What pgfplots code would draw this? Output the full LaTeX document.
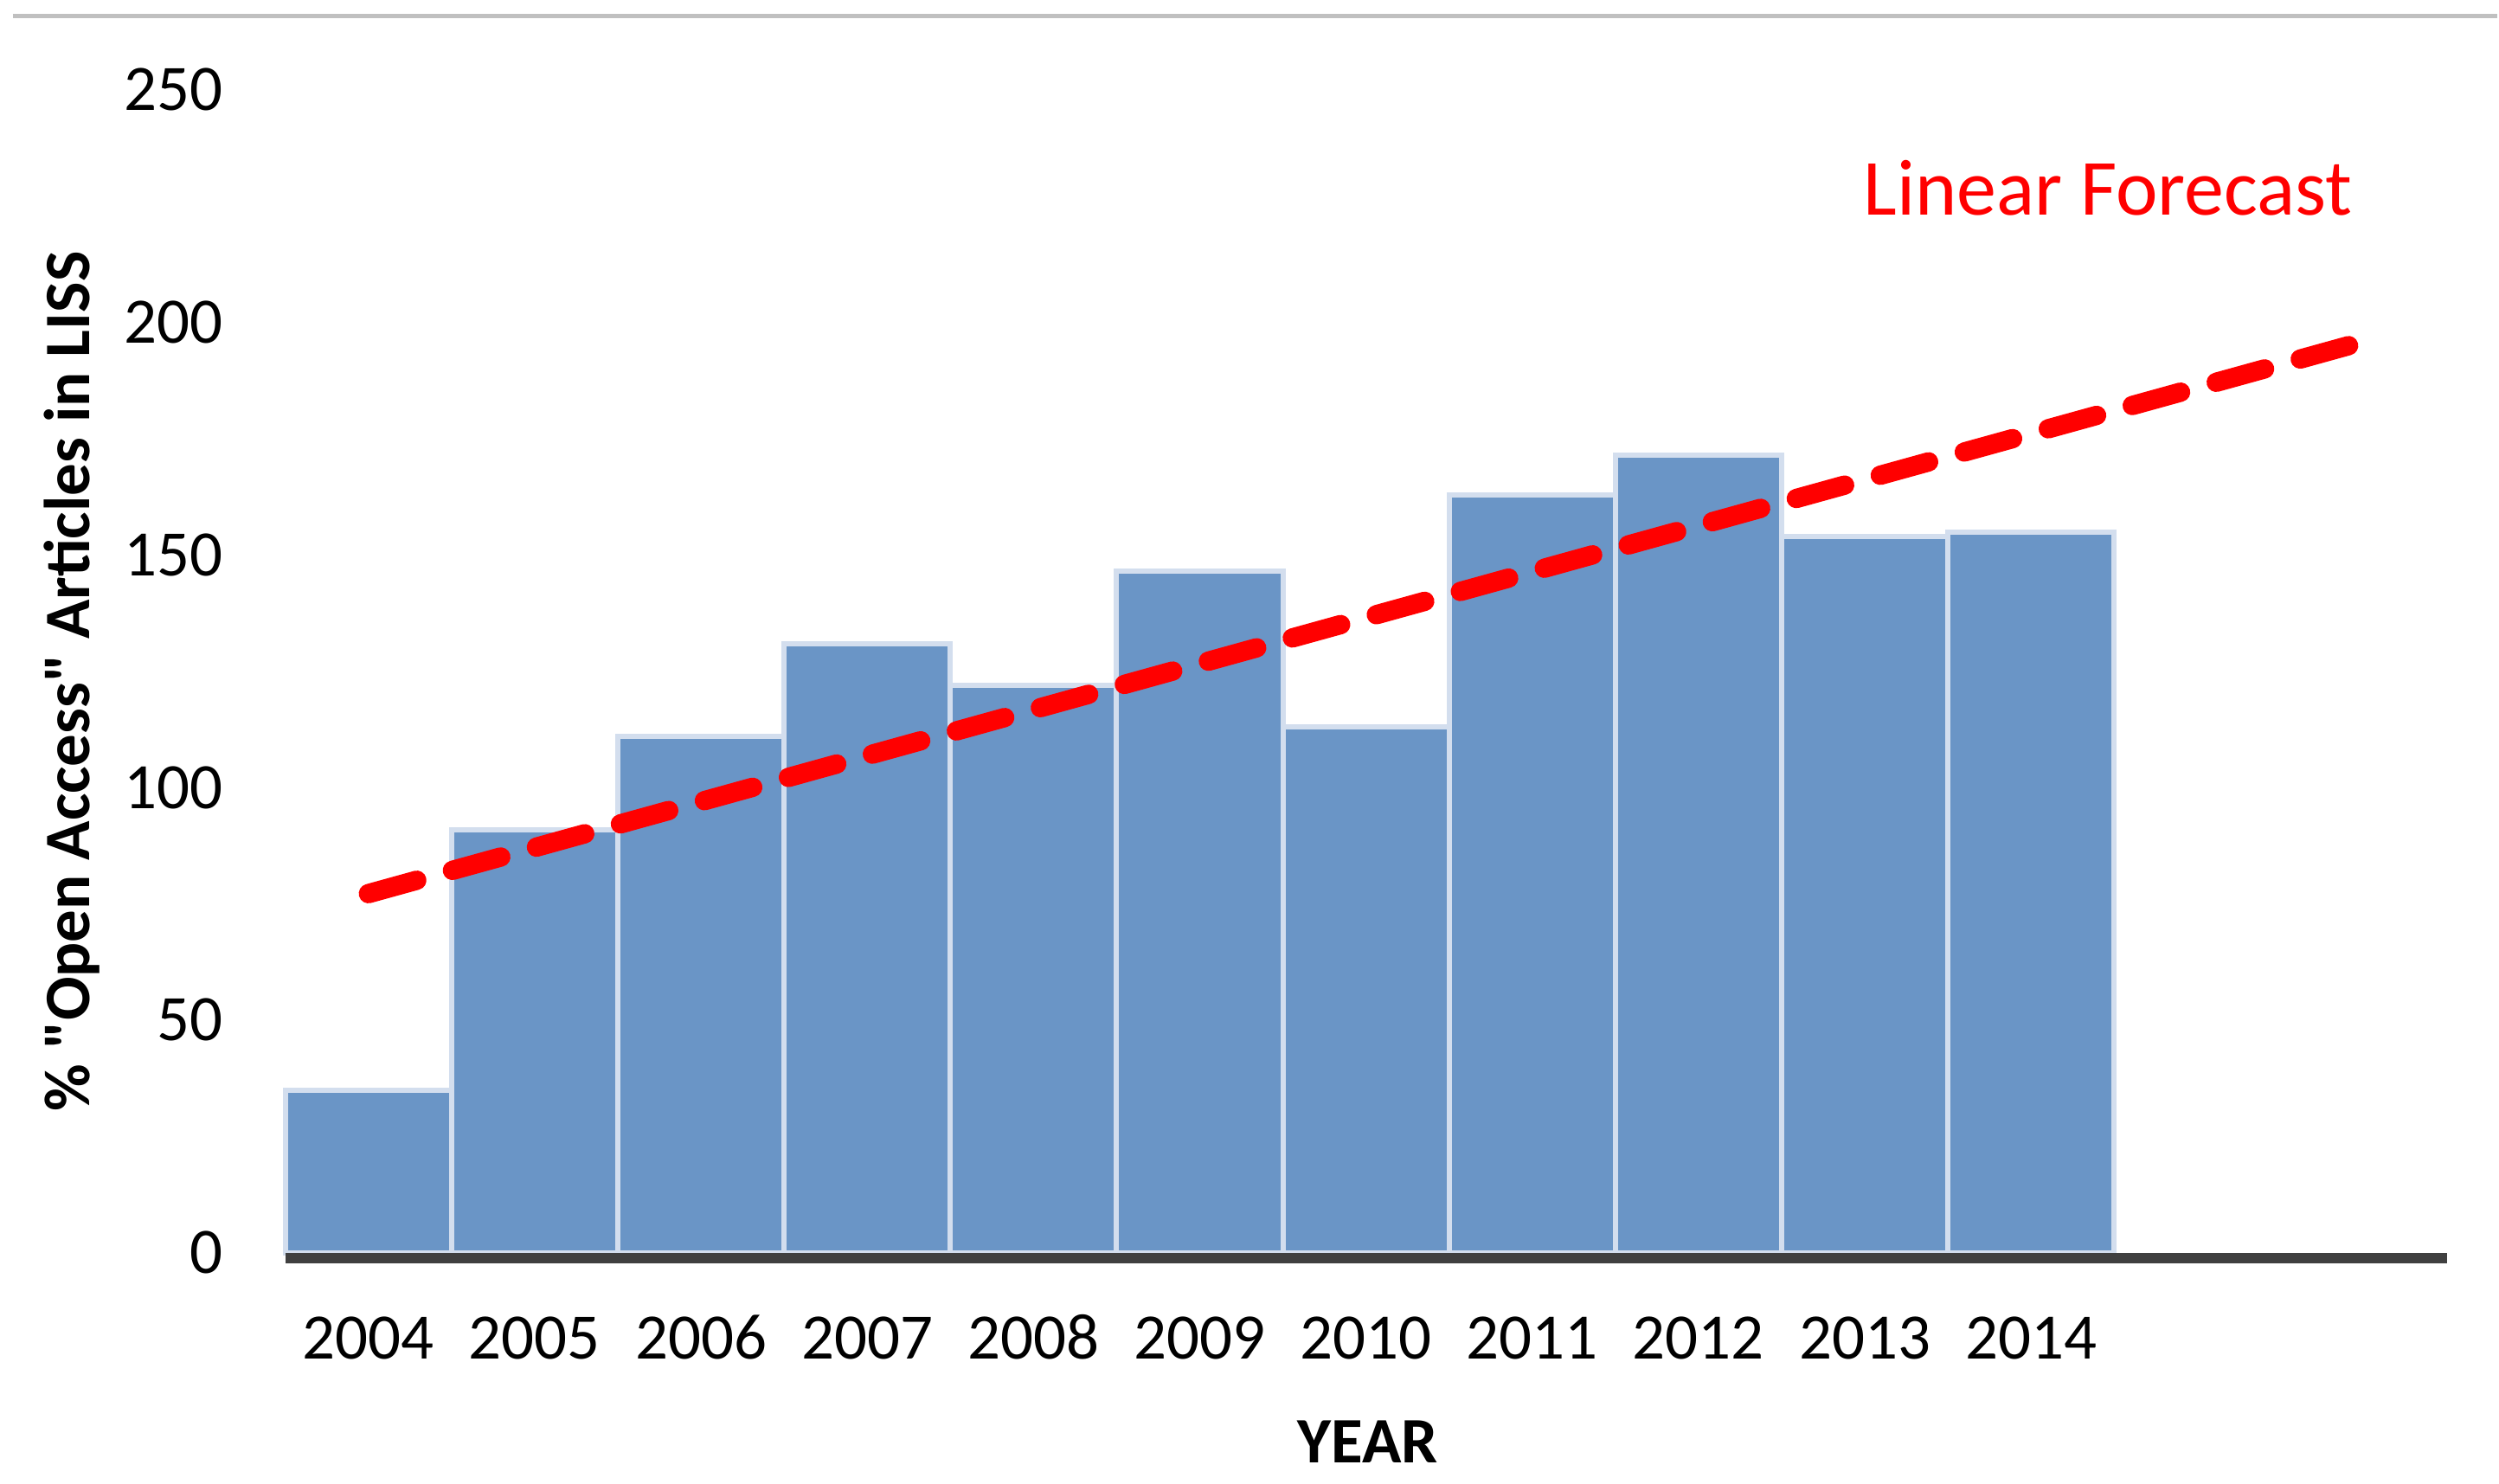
\documentclass[border=0pt]{standalone}
\usepackage{fontspec}
\setmainfont{Carlito}
\usepackage{pgfplots}
\pgfplotsset{compat=1.18}
\definecolor{barblue}{RGB}{106,149,198}
\definecolor{barborder}{RGB}{211,222,238}
\definecolor{baseline}{RGB}{64,64,64}
\definecolor{topgray}{RGB}{192,192,192}
\begin{document}
\begin{tikzpicture}
\begin{axis}[
  scale only axis, width=625pt, height=336.25pt,
  xmin=-0.5, xmax=12.5, ymin=0, ymax=250,
  clip=false,
  axis line style={draw=none},
  major tick length=0pt,
  xtick={0,1,2,3,4,5,6,7,8,9,10},
  xticklabels={2004,2005,2006,2007,2008,2009,2010,2011,2012,2013,2014},
  ytick={0,50,100,150,200,250},
  /pgf/number format/assume math mode=true,
  tick label style={font=\fontsize{18.75pt}{22pt}\selectfont},
  xticklabel style={anchor=base, yshift=-30.75pt},
  yticklabel style={anchor=east, inner sep=0pt, xshift=-18pt},
  xlabel={YEAR},
  xlabel style={at={(axis description cs:0.5008,-0.1807)}, anchor=base, font=\bfseries\fontsize{18.75pt}{22pt}\selectfont},
  ylabel={\% \textquotedbl Open Access\textquotedbl{} Articles in LISS},
  ylabel style={at={(axis description cs:-0.0988,0.4914)}, anchor=center, font=\bfseries\fontsize{18.75pt}{22pt}\selectfont},
]
\addplot[ybar, bar width=48.08pt, bar shift=0pt, fill=barblue, draw=barborder, line width=1.5pt]
  coordinates {(0,35) (1,91) (2,111) (3,131) (4,122) (5,146.5) (6,113) (7,163) (8,171.5) (9,154) (10,155)};
\addplot[red, line width=5.6pt, line cap=round, dash pattern=on 14.5pt off 10.7pt]
  coordinates {(0,77.2) (12,195.9)};
\draw[color=baseline, line width=3pt] ([yshift=-1.5pt]axis cs:-0.5,0) -- ([yshift=-1.5pt]axis cs:12.5,0);
\node[anchor=base, text=red, font=\fontsize{23pt}{27pt}\selectfont] at (axis cs:10.462,223.05) {Linear Forecast};
\draw[color=topgray, line width=1.25pt] (axis description cs:-0.126,1.0632) -- (axis description cs:1.0232,1.0632);
\path (axis description cs:-0.132,1.0773) rectangle (axis description cs:1.0232,-0.1985);
\end{axis}
\end{tikzpicture}
\end{document}
